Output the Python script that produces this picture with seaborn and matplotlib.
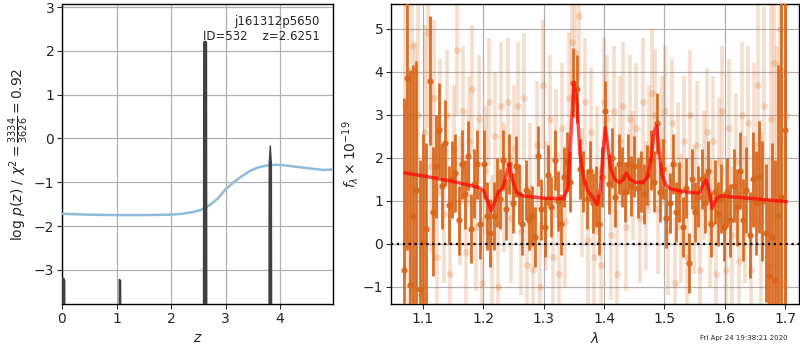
import numpy as np
import pandas as pd
import matplotlib
matplotlib.use("Agg")
import matplotlib.pyplot as plt
import seaborn as sns

# ---------------- data: left panel ----------------
z_chi = [0.0, 0.5, 1.0, 1.5, 2.0, 2.2, 2.4, 2.55, 2.7, 2.85, 3.0, 3.15, 3.3, 3.45, 3.6, 3.75, 3.9, 4.05, 4.25, 4.45, 4.65, 4.8, 4.95]
chi_scaled = [-1.72, -1.74, -1.75, -1.75, -1.74, -1.72, -1.68, -1.63, -1.53, -1.38, -1.16, -1.0, -0.86, -0.74, -0.66, -0.62, -0.60, -0.61, -0.64, -0.67, -0.70, -0.72, -0.71]

z_pz = [0.0, 0.005, 0.01, 0.035, 0.05, 0.06, 1.02, 1.04, 1.05, 1.075, 1.085, 1.10,
        2.57, 2.59, 2.6, 2.625, 2.65, 2.66, 2.68, 3.77, 3.79, 3.80, 3.82, 3.84, 3.85, 3.88, 4.95]
logp = [-10, -3.18, -3.18, -3.2, -3.25, -10, -10, -10, -3.22, -3.24, -10, -10,
        -10, -10, 2.2, 2.22, 2.2, -10, -10, -10, -10, -0.6, -0.17, -0.6, -10, -10, -10]

# ---------------- data: right panel ----------------
wave_dark = [1.068, 1.073, 1.079, 1.084, 1.089, 1.095, 1.100, 1.105, 1.111, 1.116,
             1.121, 1.127, 1.132, 1.137, 1.143, 1.148, 1.153, 1.159, 1.164, 1.169,
             1.174, 1.180, 1.185, 1.190, 1.195, 1.201, 1.206, 1.211, 1.217, 1.222,
             1.227, 1.233, 1.238, 1.243, 1.249, 1.254, 1.259, 1.264, 1.270, 1.275,
             1.280, 1.286, 1.291, 1.296, 1.302, 1.307, 1.312, 1.318, 1.323, 1.328,
             1.333, 1.339, 1.344, 1.349, 1.355, 1.360, 1.365, 1.371, 1.376, 1.381,
             1.386, 1.392, 1.397, 1.402, 1.408, 1.413, 1.418, 1.424, 1.429, 1.434,
             1.440, 1.445, 1.450, 1.456, 1.461, 1.466, 1.471, 1.477, 1.482, 1.487,
             1.493, 1.498, 1.503, 1.509, 1.514, 1.519, 1.525, 1.530, 1.535, 1.540,
             1.546, 1.551, 1.556, 1.562, 1.567, 1.572, 1.578, 1.583, 1.588, 1.593,
             1.599, 1.604, 1.609, 1.615, 1.620, 1.625, 1.631, 1.636, 1.641, 1.646,
             1.652, 1.657, 1.662, 1.668, 1.673, 1.678, 1.684, 1.689, 1.694, 1.700]
flux_dark = [-0.6, 3.85, -0.95, 0.65, 1.25, -1.05, 0.05, 0.35, 3.8, 0.75,
             1.8, 2.65, 1.35, 2.35, 0.9, 1.5, 1.65, 0.55, 1.85, 1.15,
             2.05, 0.35, 1.4, 1.85, 0.45, 1.85, 0.65, 0.25, 0.65, 1.2,
             1.05, 1.95, 0.8, 1.85, 0.95, 1.8, 1.15, 0.45, 1.25, 0.55,
             0.65, 0.15, 2.05, 0.8, 0.4, 1.6, 0.85, 1.95, 1.0, 0.45,
             1.55, 1.9, 1.45, 3.75, 3.6, 1.75, 1.45, 1.05, 1.7, 0.95,
             1.1, 0.45, 1.55, 3.1, 1.4, 2.0, 1.1, 1.85, 1.55, 1.2,
             1.85, 1.35, 1.8, 1.3, 1.45, 1.15, 1.6, 1.95, 1.45, 2.8,
             1.2, 1.75, 0.6, 0.95, 1.85, 0.75, 1.2, 0.4, 1.3, -0.45,
             1.5, 0.75, 1.1, 1.5, 0.95, 1.7, 0.45, 1.2, 0.7, 1.05,
             0.4, 1.2, 0.55, 1.35, 0.85, 1.7, 0.55, 1.25, 0.2, 1.5,
             0.95, 1.55, 1.0, 0.25, -0.75, 0.15, -0.85, 0.65, 1.1, 2.65]
err_dark = [4.0, 4.0, 5.0, 3.5, 3.0, 3.0, 2.5, 2.0, 1.5, 1.5,
            1.2, 1.1, 1.0, 1.0, 0.9, 0.9, 0.9, 0.8, 0.8, 0.8,
            0.8, 0.8, 0.8, 0.8, 0.8, 0.8, 0.8, 0.8, 0.8, 0.8,
            0.7, 0.7, 0.7, 0.7, 0.7, 0.7, 0.7, 0.7, 0.7, 0.7,
            0.7, 0.7, 0.7, 0.7, 0.7, 0.7, 0.7, 0.7, 0.7, 0.7,
            0.7, 0.7, 0.7, 0.8, 0.8, 0.7, 0.7, 0.7, 0.7, 0.7,
            0.7, 0.7, 0.7, 0.7, 0.7, 0.7, 0.7, 0.7, 0.7, 0.7,
            0.7, 0.7, 0.7, 0.7, 0.7, 0.7, 0.7, 0.7, 0.7, 0.7,
            0.7, 0.7, 0.7, 0.7, 0.7, 0.7, 0.7, 0.7, 0.7, 0.7,
            0.7, 0.7, 0.7, 0.7, 0.7, 0.7, 0.75, 0.75, 0.75, 0.8,
            0.8, 0.8, 0.85, 0.85, 0.9, 0.9, 0.95, 1.0, 1.0, 1.1,
            1.2, 1.3, 1.4, 1.6, 1.8, 2.2, 2.8, 3.5, 5.0, 6.0]

wave_light = [1.071, 1.076, 1.081, 1.087, 1.092, 1.097, 1.103, 1.108, 1.113, 1.119,
              1.124, 1.129, 1.135, 1.140, 1.145, 1.151, 1.156, 1.161, 1.166, 1.172,
              1.177, 1.182, 1.188, 1.193, 1.198, 1.204, 1.209, 1.214, 1.220, 1.225,
              1.230, 1.235, 1.241, 1.246, 1.251, 1.257, 1.262, 1.267, 1.273, 1.278,
              1.283, 1.289, 1.294, 1.299, 1.304, 1.310, 1.315, 1.320, 1.326, 1.331,
              1.336, 1.342, 1.347, 1.352, 1.358, 1.363, 1.368, 1.374, 1.379, 1.384,
              1.389, 1.395, 1.400, 1.405, 1.411, 1.416, 1.421, 1.427, 1.432, 1.437,
              1.443, 1.448, 1.453, 1.459, 1.464, 1.469, 1.474, 1.480, 1.485, 1.490,
              1.496, 1.501, 1.506, 1.512, 1.517, 1.522, 1.528, 1.533, 1.538, 1.543,
              1.549, 1.554, 1.559, 1.565, 1.570, 1.575, 1.581, 1.586, 1.591, 1.596,
              1.602, 1.607, 1.612, 1.618, 1.623, 1.628, 1.634, 1.639, 1.644, 1.649,
              1.655, 1.660, 1.665, 1.671, 1.676, 1.681, 1.687, 1.692, 1.697, 1.702]
flux_light = [3.2, 0.1, 4.6, 1.2, 3.0, -1.2, 2.6, 4.9, 1.8, 3.4,
              -0.3, 2.7, 0.7, 3.0, -0.7, 2.2, 4.5, 1.0, 3.1, -0.2,
              2.4, 3.6, 0.4, 2.9, -0.9, 1.7, 3.3, 0.1, 2.5, -1.0,
              3.2, 1.3, 3.3, 0.6, 2.2, 3.2, 0.3, 3.4, -0.5, 1.3,
              -0.6, 2.3, -1.0, 3.7, 0.9, 2.9, -0.3, 2.1, -0.7, 2.7,
              0.5, 3.4, 4.7, 4.45, 5.3, 1.2, 3.3, 0.1, 2.6, -0.3,
              1.7, -0.5, 3.3, 2.9, 0.2, 3.1, -0.7, 2.4, 3.2, 0.4,
              2.9, 1.6, 2.7, 0.6, 3.3, 0.9, 2.2, 3.5, 3.0, 0.8,
              2.4, 3.1, 0.3, 2.8, -0.9, 1.8, 0.6, 2.4, -0.3, 3.0,
              0.8, 2.3, -0.6, 1.6, 2.6, 0.5, 2.4, -0.7, 1.9, 3.1,
              -0.6, 2.7, 0.2, 1.9, -0.4, 3.0, 0.8, 2.8, -0.6, 2.3,
              3.7, 0.5, 3.2, -0.5, 2.9, 4.2, 1.0, 5.0, -0.9, 3.0]
err_light = [4.0, 4.0, 4.0, 3.5, 3.0, 3.0, 2.5, 2.2, 2.0, 1.8,
             1.7, 1.6, 1.6, 1.5, 1.5, 1.5, 1.5, 1.5, 1.5, 1.5,
             1.5, 1.5, 1.5, 1.5, 1.5, 1.5, 1.5, 1.5, 1.5, 1.5,
             1.5, 1.5, 1.5, 1.5, 1.5, 1.5, 1.5, 1.5, 1.5, 1.5,
             1.5, 1.5, 1.5, 1.5, 1.5, 1.5, 1.5, 1.5, 1.5, 1.5,
             1.5, 1.5, 1.5, 1.5, 1.5, 1.5, 1.5, 1.5, 1.5, 1.5,
             1.5, 1.5, 1.5, 1.5, 1.5, 1.5, 1.5, 1.5, 1.5, 1.5,
             1.5, 1.5, 1.5, 1.5, 1.5, 1.5, 1.5, 1.5, 1.5, 1.5,
             1.5, 1.5, 1.5, 1.5, 1.5, 1.5, 1.5, 1.5, 1.5, 1.5,
             1.5, 1.5, 1.5, 1.5, 1.5, 1.5, 1.5, 1.5, 1.5, 1.5,
             1.6, 1.6, 1.6, 1.6, 1.6, 1.7, 1.7, 1.8, 1.8, 1.9,
             2.0, 2.1, 2.3, 2.5, 2.8, 3.2, 3.6, 4.0, 5.0, 6.0]

wave_model = [1.070, 1.100, 1.150, 1.190, 1.200, 1.207, 1.213, 1.218, 1.225, 1.232, 1.238, 1.243,
              1.248, 1.255, 1.265, 1.300, 1.333, 1.340, 1.345, 1.350, 1.355, 1.360, 1.366, 1.372,
              1.380, 1.389, 1.394, 1.398, 1.402, 1.406, 1.411, 1.418, 1.426, 1.432, 1.437, 1.443,
              1.452, 1.465, 1.472, 1.478, 1.483, 1.487, 1.491, 1.496, 1.503, 1.512, 1.540, 1.558,
              1.563, 1.569, 1.574, 1.579, 1.583, 1.588, 1.595, 1.605, 1.650, 1.702]
flux_model = [1.65, 1.58, 1.45, 1.32, 1.25, 1.0, 0.77, 0.95, 1.2, 1.3, 1.6, 1.85,
              1.5, 1.2, 1.12, 1.06, 1.05, 1.3, 2.5, 3.75, 3.3, 2.1, 1.55, 1.25,
              1.1, 0.92, 1.3, 2.1, 2.7, 2.3, 1.75, 1.5, 1.42, 1.5, 1.65, 1.5,
              1.43, 1.43, 1.55, 2.0, 2.6, 2.75, 2.2, 1.6, 1.35, 1.27, 1.2, 1.18,
              1.35, 1.48, 1.25, 0.82, 0.95, 1.08, 1.12, 1.1, 1.05, 0.98]

# ---------------- figure ----------------
sns.set_theme(style="ticks")
plt.rcParams['font.family'] = ['DejaVu Sans']
plt.rcParams['mathtext.fontset'] = 'dejavusans'

fig = plt.figure(figsize=(8, 3.5), dpi=100)
ax1 = fig.add_axes([62/800, 46/350, 271/800, 300/350])
ax2 = fig.add_axes([391/800, 46/350, 408/800, 300/350])

gridkw = dict(color='#b0b0b0', linewidth=0.9)

# Left panel
df_chi = pd.DataFrame({'z': z_chi, 'v': chi_scaled})
sns.lineplot(data=df_chi, x='z', y='v', ax=ax1, color='#8fbbd9', linewidth=1.8, zorder=3)
ax1.fill_between(z_pz, logp, -10, color='#404040', linewidth=1.0, edgecolor='#404040', zorder=4)
ax1.set_xlim(0, 4.97)
ax1.set_ylim(-3.78, 3.07)
ax1.set_xticks([0, 1, 2, 3, 4])
ax1.set_yticks([-3, -2, -1, 0, 1, 2, 3])
ax1.grid(True, **gridkw)
ax1.set_axisbelow(True)
ax1.set_xlabel('$z$', fontsize=10, labelpad=4)
ax1.set_ylabel(r'$\log\,p(z)$ / $\chi^2=\frac{3334}{3626}=0.92$', fontsize=10, labelpad=2)
ax1.text(0.95, 0.965, 'j161312p5650\nID=532    z=2.6251', transform=ax1.transAxes,
         ha='right', va='top', fontsize=8.5, linespacing=1.2, zorder=5)

# Right panel
orange = '#d8661a'
ax2.errorbar(wave_light, flux_light, yerr=err_light, fmt='o', color=orange, alpha=0.22,
             markersize=5, elinewidth=2.6, capsize=0, markeredgewidth=0, zorder=2)
ax2.errorbar(wave_dark, flux_dark, yerr=err_dark, fmt='o', color=orange, alpha=0.95,
             markersize=4.5, elinewidth=2.0, capsize=0, markeredgewidth=0, zorder=3)
df_mod = pd.DataFrame({'w': wave_model, 'f': flux_model})
sns.lineplot(data=df_mod, x='w', y='f', ax=ax2, color='red', alpha=0.7, linewidth=2.5, zorder=5)
ax2.axhline(0, color='black', linestyle=':', linewidth=1.6, zorder=6)
ax2.set_xlim(1.047, 1.723)
ax2.set_ylim(-1.4, 5.58)
ax2.set_xticks([1.1, 1.2, 1.3, 1.4, 1.5, 1.6, 1.7])
ax2.set_yticks([-1, 0, 1, 2, 3, 4, 5])
ax2.grid(True, **gridkw)
ax2.set_axisbelow(True)
ax2.set_xlabel(r'$\lambda$', fontsize=10, labelpad=4)
ax2.set_ylabel(r'$f_\lambda \times 10^{-19}$', fontsize=10, labelpad=1)

for ax in (ax1, ax2):
    ax.tick_params(labelsize=10, length=3.5, width=0.8, direction='out', pad=2)
    for s in ax.spines.values():
        s.set_linewidth(1.0)
        s.set_color('black')
        s.set_visible(True)

fig.text(0.985, 0.025, 'Fri Apr 24 19:38:21 2020', ha='right', va='bottom', fontsize=5)

fig.savefig('out.png', dpi=100)
